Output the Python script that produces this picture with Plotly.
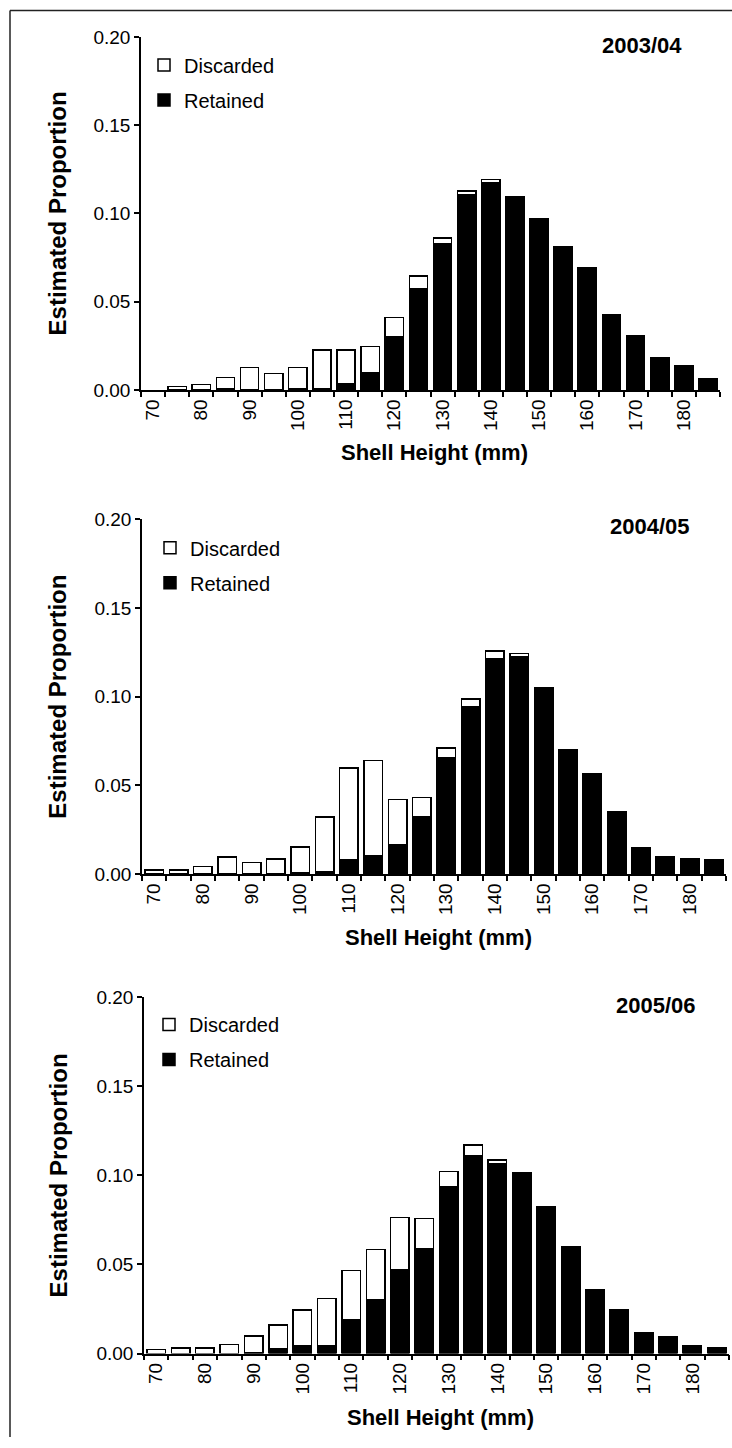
import plotly.graph_objects as go

# ---------------- data ----------------
shell_height = ["70", "75", "80", "85", "90", "95", "100", "105", "110", "115", "120", "125",
                "130", "135", "140", "145", "150", "155", "160", "165", "170", "175", "180", "185"]
tick_labels = ["70", "", "80", "", "90", "", "100", "", "110", "", "120", "",
               "130", "", "140", "", "150", "", "160", "", "170", "", "180", ""]
seasons = ["2003/04", "2004/05", "2005/06"]

retained_2003 = [0, 0, 0, 0.0005, 0, 0, 0.0008, 0.0008, 0.0034, 0.0098, 0.030, 0.0574,
                 0.0828, 0.1108, 0.1172, 0.1094, 0.097, 0.081, 0.0694, 0.0426, 0.0308, 0.0183, 0.0138, 0.0064]
discarded_2003 = [0, 0.0019, 0.0032, 0.0067, 0.0128, 0.0094, 0.0120, 0.0218, 0.0192, 0.0147, 0.011, 0.0071,
                  0.0032, 0.002, 0.002, 0, 0, 0, 0, 0, 0, 0, 0, 0]

retained_2004 = [0, 0, 0, 0, 0, 0, 0.0005, 0.0012, 0.0081, 0.0103, 0.0165, 0.0325,
                 0.0658, 0.0945, 0.1212, 0.1224, 0.1053, 0.0701, 0.0564, 0.0352, 0.015, 0.0096, 0.0086, 0.0079]
discarded_2004 = [0.0023, 0.0023, 0.0043, 0.0096, 0.0066, 0.0086, 0.0147, 0.0309, 0.0517, 0.0538, 0.0254, 0.0107,
                  0.0053, 0.0042, 0.0044, 0.002, 0, 0, 0, 0, 0, 0, 0, 0]

retained_2005 = [0, 0, 0, 0, 0.0006, 0.0026, 0.0045, 0.0045, 0.0187, 0.0301, 0.0471, 0.0589,
                 0.0936, 0.1108, 0.1067, 0.1015, 0.0824, 0.0602, 0.0359, 0.0243, 0.0118, 0.0095, 0.0043, 0.0034]
discarded_2005 = [0.0022, 0.003, 0.003, 0.0052, 0.0091, 0.0135, 0.020, 0.0265, 0.028, 0.0284, 0.0294, 0.0168,
                  0.0086, 0.0064, 0.0019, 0, 0, 0, 0, 0, 0, 0, 0, 0]

y_ticks = [0, 0.05, 0.10, 0.15, 0.20]

retained = [retained_2003, retained_2004, retained_2005]
discarded = [discarded_2003, discarded_2004, discarded_2005]

# ---------------- layout geometry (target pixels in the photographed page) ----------------
W, H = 732, 1448
FONT = "Liberation Sans, Arial, sans-serif"
Y_OFF, Y_SCALE = 9.8, 0.986   # vertical calibration of the captured picture

# plot boxes: (left, right, top(0.20), bottom(0.00))
boxes = [(141, 720, 36.7, 390), (142, 726, 519.3, 874.3), (144, 729, 997.7, 1354)]
legend_first_item = [(144, 65), (150, 548), (149, 1025)]
year_pos = [(642, 45.7), (650, 527), (656, 1006)]
xtitle_pos = [(434, 453), (438, 938), (441, 1418)]
ytitle_x = [57, 58, 58]


def fy(y):
    """target picture y -> figure pixel y"""
    return (y - Y_OFF) / Y_SCALE


def px(x):
    return x / W


def py(y):
    return min(1.0, max(0.0, 1 - fy(y) / H))


def nz(values):
    return [v if v > 0 else None for v in values]


fig = go.Figure()
annotations = []
for i in range(3):
    sfx = "" if i == 0 else str(i + 1)
    leg = "legend" + sfx
    fig.add_trace(go.Bar(
        x=shell_height, y=nz(retained[i]), name="Retained", legendrank=2,
        marker=dict(color="black", line=dict(color="black", width=1.5)),
        xaxis="x" + sfx, yaxis="y" + sfx, legend=leg, legendgroup="r" + sfx,
    ))
    fig.add_trace(go.Bar(
        x=shell_height, y=nz(discarded[i]), name="Discarded", legendrank=1,
        marker=dict(color="white", line=dict(color="black", width=1.5)),
        xaxis="x" + sfx, yaxis="y" + sfx, legend=leg, legendgroup="d" + sfx,
    ))
    l, r, t, b = boxes[i]
    axis_common = dict(showline=True, linecolor="black", linewidth=1.5, ticks="outside",
                       ticklen=5, tickwidth=1.5, tickcolor="black", showgrid=False,
                       zeroline=False, tickfont=dict(family=FONT, size=19, color="black"))
    lx, ly = legend_first_item[i]
    fig.update_layout(**{
        "xaxis" + sfx: dict(domain=[px(l), px(r)], anchor="y" + sfx, type="category",
                            tickmode="array", tickvals=shell_height, ticktext=tick_labels,
                            tickson="boundaries", tickangle=-90, **axis_common),
        "yaxis" + sfx: dict(domain=[py(b), py(t)], anchor="x" + sfx, range=[0, 0.2],
                            tickmode="array", tickvals=y_ticks, tickformat=".2f", **axis_common),
        leg: dict(x=px(lx), y=1 - (fy(ly) - 20) / H, xanchor="left", yanchor="top",
                  xref="paper", yref="paper", bgcolor="rgba(0,0,0,0)",
                  traceorder="grouped", tracegroupgap=6,
                  font=dict(family=FONT, size=20, color="black")),
    })
    annotations.append(dict(x=px(year_pos[i][0]), y=py(year_pos[i][1]), xref="paper", yref="paper",
                            xanchor="center", yanchor="middle",
                            text="<b>" + seasons[i] + "</b>", showarrow=False,
                            font=dict(family=FONT, size=22, color="black")))
    annotations.append(dict(x=px(xtitle_pos[i][0]), y=py(xtitle_pos[i][1]), xref="paper", yref="paper",
                            xanchor="center", yanchor="middle",
                            text="<b>Shell Height (mm)</b>", showarrow=False,
                            font=dict(family=FONT, size=22, color="black")))
    annotations.append(dict(x=px(ytitle_x[i]), y=py((t + b) / 2), xref="paper", yref="paper",
                            xanchor="center", yanchor="middle",
                            text="<b>Estimated Proportion</b>", showarrow=False, textangle=-90,
                            font=dict(family=FONT, size=24, color="black")))

frame_top = 1 - 0.6 / H
fig.update_layout(
    width=W, height=H, margin=dict(l=0, r=0, t=0, b=0),
    paper_bgcolor="white", plot_bgcolor="white",
    barmode="stack", bargap=0.24, showlegend=True,
    annotations=annotations,
    shapes=[
        dict(type="line", xref="paper", yref="paper", x0=px(10), x1=1, y0=frame_top, y1=frame_top,
             line=dict(color="#222", width=1.5)),
        dict(type="line", xref="paper", yref="paper", x0=px(10), x1=px(10), y0=frame_top, y1=0,
             line=dict(color="#222", width=1.5)),
    ],
)

fig.write_html(
    "out.html",
    config={"displayModeBar": False},
    post_script=(
        "var gd=document.getElementById('{plot_id}');"
        "gd.style.position='fixed';gd.style.left='0px';gd.style.top='0px';"
        "document.body.style.margin='0';document.body.style.overflow='hidden';"
    ),
)
